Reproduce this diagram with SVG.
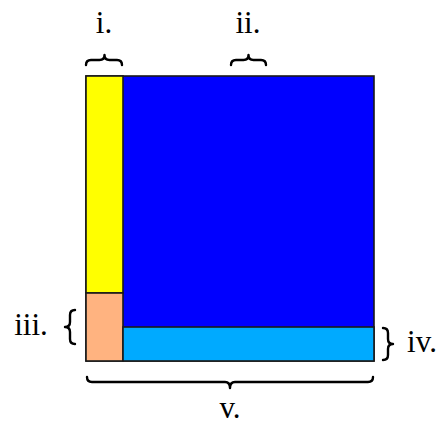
<svg xmlns="http://www.w3.org/2000/svg" width="439" height="425" viewBox="0 0 439 425">
<style>
.r{stroke:#1a1a1a;stroke-width:1.6}
.b{fill:none;stroke:#000;stroke-width:2.4;stroke-linecap:round;stroke-linejoin:round}
.t{font-family:"Liberation Serif",serif;font-size:31px;fill:#000}
</style>
<rect width="439" height="425" fill="#fff"/>
<g id="blue"><rect class="r" x="86" y="76" width="288" height="285" fill="#0000ff"/></g>
<g id="yellow"><rect class="r" x="86" y="76" width="37" height="217" fill="#ffff00"/></g>
<g id="peach"><rect class="r" x="86" y="293" width="37" height="68" fill="#ffb380"/></g>
<g id="lightblue"><rect class="r" x="123" y="327" width="251" height="34" fill="#00aaff"/></g>
<g id="braces">
<path class="b" d="M86,65 Q86,60 91,60 L99.5,60 Q104.5,60 104.5,55 Q104.5,60 109.5,60 L117,60 Q122,60 122,65"/>
<path class="b" d="M231,65 Q231,60 236,60 L243.5,60 Q248.5,60 248.5,55 Q248.5,60 253.5,60 L261,60 Q266,60 266,65"/>
<path class="b" d="M87,377 Q87,382 92,382 L225,382 Q230,382 230,388 Q230,382 235,382 L368,382 Q373,382 373,377"/>
<path class="b" d="M75,310 Q70,310 70,315 L70,322 Q70,327 65,327 Q70,327 70,332 L70,339 Q70,344 75,344" stroke-width="2.8"/>
<path class="b" d="M383,328 Q388,328 388,333 L388,339 Q388,344 393,344 Q388,344 388,349 L388,355 Q388,360 383,360" stroke-width="2.8"/>
</g>
<g id="labels">
<text class="t" x="104" y="33" text-anchor="middle">i.</text>
<text class="t" x="248" y="33" text-anchor="middle">ii.</text>
<text class="t" x="31" y="335" text-anchor="middle">iii.</text>
<text class="t" x="422" y="352" text-anchor="middle">iv.</text>
<text class="t" x="230" y="418" text-anchor="middle">v.</text>
</g>
</svg>
